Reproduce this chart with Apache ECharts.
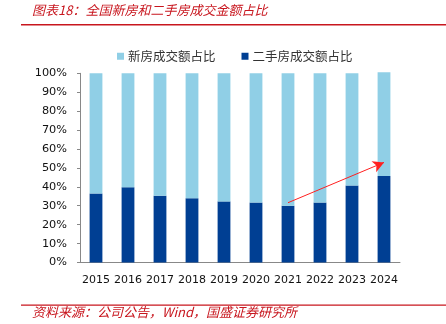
<!DOCTYPE html>
<html><head><meta charset="utf-8">
<script src="https://cdn.jsdelivr.net/npm/echarts@6/dist/echarts.min.js"></script>
<style>html,body{margin:0;padding:0;background:#fff}#c{width:446px;height:324px}</style>
</head><body><div id="c"></div>
<script>
const years = ['2015','2016','2017','2018','2019','2020','2021','2022','2023','2024'];
const secondHand = [36.5, 39.8, 35.3, 34.0, 32.3, 31.7, 30.0, 31.7, 40.7, 45.7];
const newHouse = [63.5, 60.2, 64.7, 66.0, 67.7, 68.3, 70.0, 68.3, 59.3, 54.8];
const yTicks = [0,10,20,30,40,50,60,70,80,90,100];
const arrowFrom = [5.71, 31.6];
const arrowTo = [9.08, 52.9];

const chart = echarts.init(document.getElementById('c'));
const red = '#C8161E';
chart.setOption({
  animation: false,
  textStyle: {fontFamily: 'DejaVu Sans'},
  grid: {left: 80, right: 46, top: 73.3, bottom: 61.5},
  legend: {
    data: ['新房成交额占比','二手房成交额占比'],
    top: 45, left: 112, itemWidth: 7, itemHeight: 7, itemGap: 26,
    icon: 'rect',
    textStyle: {fontFamily: 'Noto Sans CJK SC', fontSize: 12.5, color: '#333', padding: [0,0,0,-1]}
  },
  xAxis: {
    type: 'category', data: years,
    axisLine: {lineStyle: {color: '#888'}},
    axisTick: {inside: true, length: 4, lineStyle: {color: '#888'}},
    axisLabel: {fontSize: 11, color: '#111', margin: 12, interval: 0, hideOverlap: false}
  },
  yAxis: {
    type: 'value', min: 0, max: 100, interval: 10,
    splitLine: {show: false},
    axisLine: {show: true, lineStyle: {color: '#888'}},
    axisTick: {show: true, length: 3, lineStyle: {color: '#888'}},
    axisLabel: {fontSize: 11.3, color: '#111', margin: 13, formatter: v => yTicks.includes(v) ? v + '%' : ''}
  },
  series: [
    {name: '二手房成交额占比', type: 'bar', stack: 's', data: secondHand, barWidth: '40%', clip: false,
     itemStyle: {color: '#003F93'},
     markLine: {
       silent: true, symbol: ['none','arrow'], symbolSize: [9, 11],
       label: {show: false},
       lineStyle: {color: '#FF2020', width: 1, type: 'solid'},
       data: [[{coord: arrowFrom}, {coord: arrowTo}]]
     }},
    {name: '新房成交额占比', type: 'bar', stack: 's', data: newHouse, barWidth: '40%', clip: false,
     itemStyle: {color: '#90CFE6'}}
  ],
  graphic: [
    {type: 'text', left: 32, top: 4, style: {text: '图表18：全国新房和二手房成交金额占比', fontFamily: 'Noto Sans CJK SC', fontSize: 13, fontStyle: 'italic', fill: red}},
    {type: 'rect', shape: {x: 21, y: 24, width: 425, height: 1.6}, style: {fill: red}},
    {type: 'rect', shape: {x: 21, y: 304.5, width: 425, height: 1.2}, style: {fill: red}},
    {type: 'text', left: 32, top: 306, style: {text: '资料来源：公司公告，Wind，国盛证券研究所', fontFamily: 'Noto Sans CJK SC', fontSize: 13, fontStyle: 'italic', fill: red}}
  ]
});
</script></body></html>
